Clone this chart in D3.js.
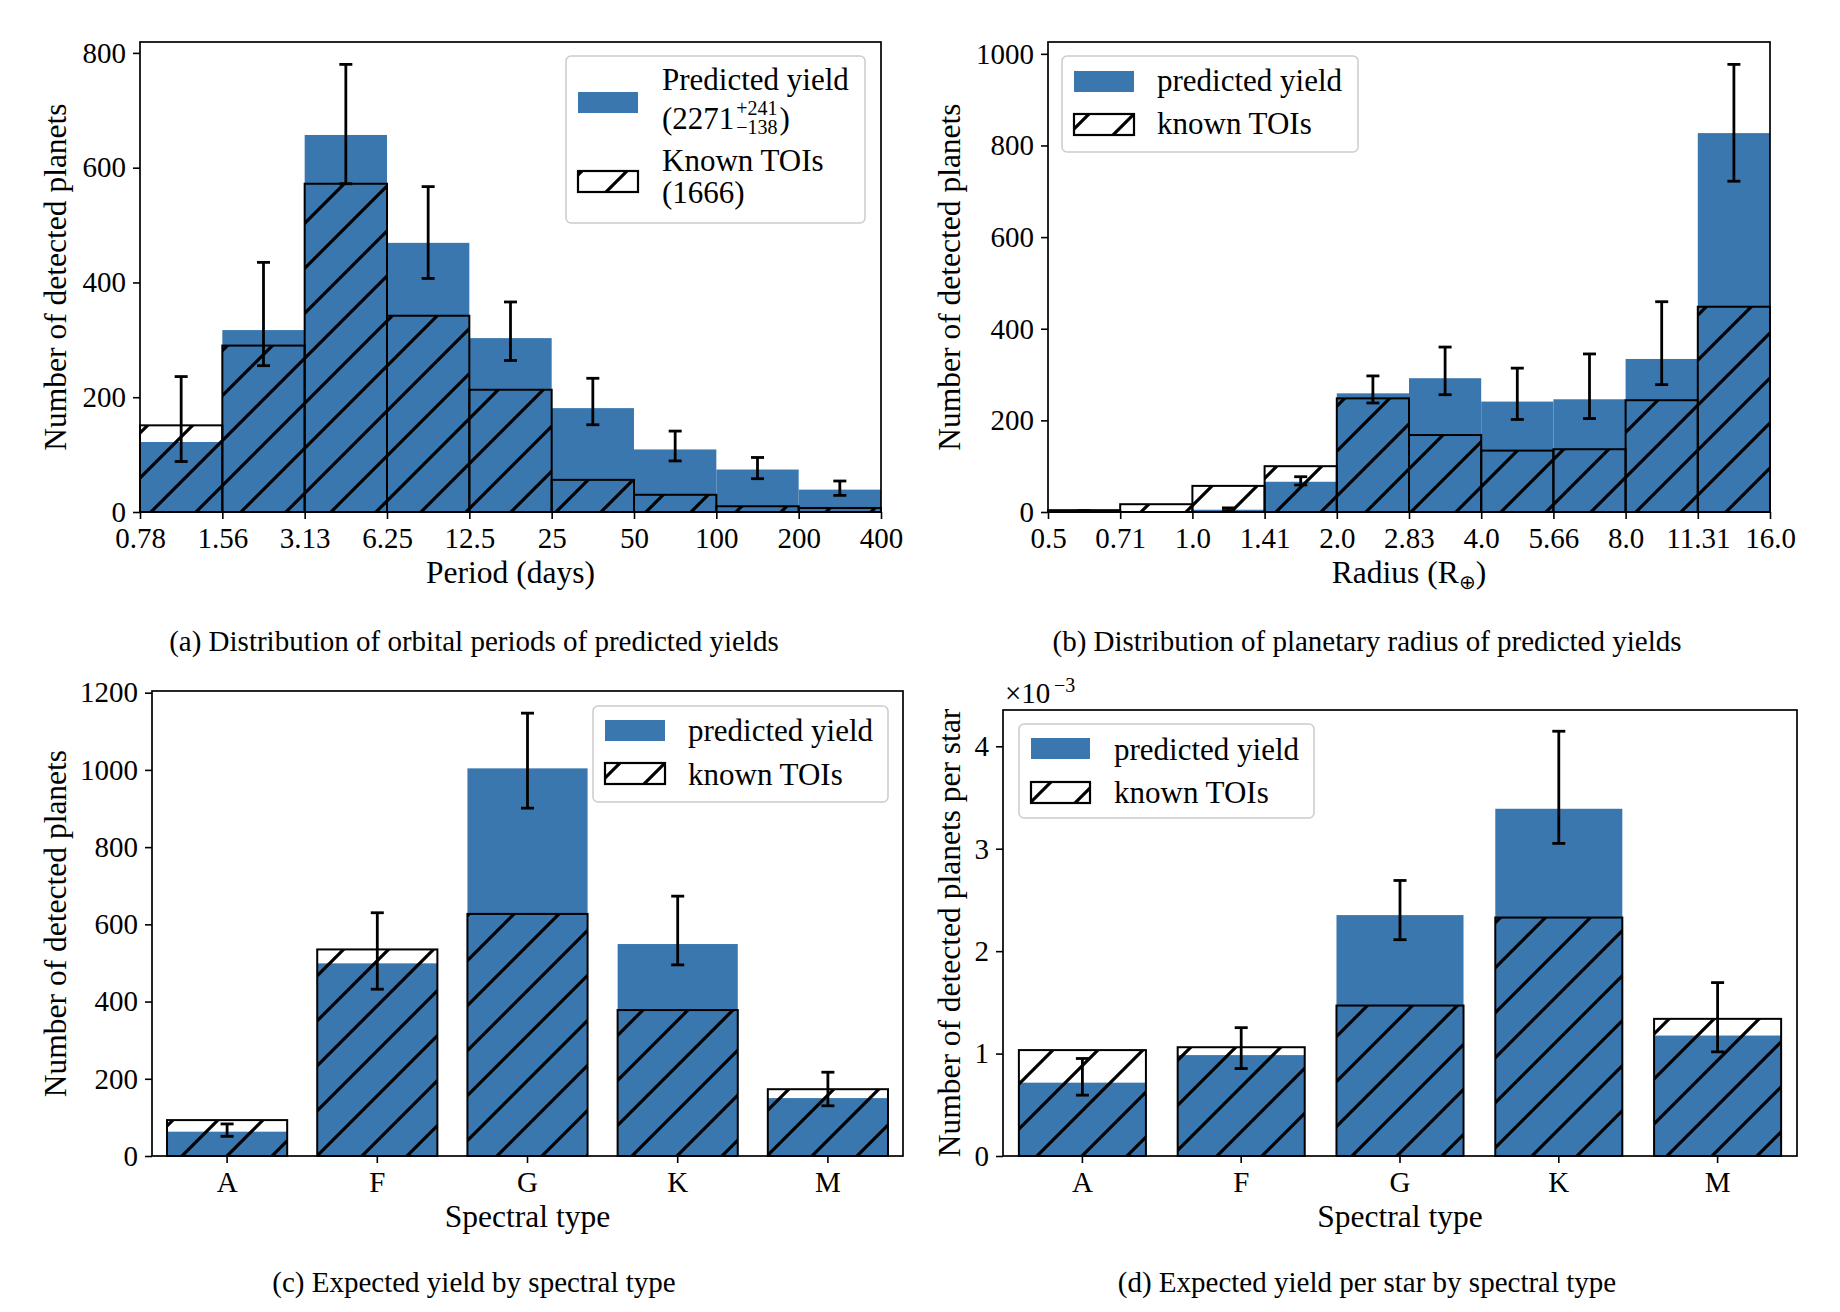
<!DOCTYPE html>
<html><head><meta charset="utf-8">
<script src="https://cdn.jsdelivr.net/npm/d3@7"></script>
<style>
body{margin:0;background:#fff}
svg text{font-family:"Liberation Serif",serif;fill:#000}
</style>
</head><body>
<svg id="fig" width="1840" height="1312"></svg>
<script>
// ---------- DATA ----------
// (a) orbital period histogram (log2 bins, days)
const periodEdges = [0.78125, 1.5625, 3.125, 6.25, 12.5, 25, 50, 100, 200, 400];
const periodTickLabels = ["0.78","1.56","3.13","6.25","12.5","25","50","100","200","400"];
const periodPredicted = [122, 317, 657, 469, 303, 181, 109, 74, 39];
const periodKnown     = [151, 290, 572, 342, 213, 56, 30, 10, 7];
const periodErrLow    = [88, 255, 572, 407, 264, 152, 89, 58, 29];
const periodErrHigh   = [236, 435, 780, 567, 366, 233, 141, 95, 54];

// (b) planetary radius histogram (sqrt2 bins, Earth radii)
const radiusEdges = [0.5, 0.7071, 1.0, 1.4142, 2.0, 2.8284, 4.0, 5.6569, 8.0, 11.3137, 16.0];
const radiusTickLabels = ["0.5","0.71","1.0","1.41","2.0","2.83","4.0","5.66","8.0","11.31","16.0"];
const radiusPredicted = [2, 0, 5, 66, 259, 292, 241, 246, 334, 827];
const radiusKnown     = [4, 17, 57, 100, 248, 168, 134, 137, 244, 448];
const radiusErrLow    = [1, null, 3, 59, 238, 256, 202, 204, 278, 722];
const radiusErrHigh   = [3, null, 9, 77, 297, 360, 314, 345, 459, 977];

// (c) yield by spectral type
const spectralTypes = ["A","F","G","K","M"];
const typePredicted = [63, 499, 1004, 549, 150];
const typeKnown     = [93, 535, 627, 378, 173];
const typeErrLow    = [51, 432, 901, 495, 130];
const typeErrHigh   = [83, 630, 1147, 673, 217];

// (d) yield per star by spectral type (units of 1e-3)
const perStarPredicted = [0.716, 0.985, 2.352, 3.390, 1.176];
const perStarKnown     = [1.034, 1.062, 1.469, 2.328, 1.339];
const perStarErrLow    = [0.594, 0.854, 2.112, 3.052, 1.017];
const perStarErrHigh   = [0.952, 1.253, 2.690, 4.147, 1.693];

const countTicks = {a:[0,200,400,600,800], b:[0,200,400,600,800,1000], c:[0,200,400,600,800,1000,1200], d:[0,1,2,3,4]};

// ---------- STYLE ----------
const BLUE = "#3a77af";
const TICK_FS = 29, LABEL_FS = 31.5, LEG_FS = 31, CAP_FS = 29;

const svg = d3.select("#fig");
const defs = svg.append("defs");
const pat = defs.append("pattern").attr("id","hatch")
  .attr("patternUnits","userSpaceOnUse").attr("width",45).attr("height",45).attr("x",33).attr("y",0);
pat.append("path").attr("d","M0,45 L45,0 M-11,11 L11,-11 M34,56 L56,34")
  .attr("stroke","#000").attr("stroke-width",3.2).attr("fill","none");

function styleAxis(g){
  g.select(".domain").remove();
  g.selectAll(".tick line").attr("stroke","#000").attr("stroke-width",1.6);
  g.selectAll(".tick text").attr("font-size",TICK_FS).attr("font-family","Liberation Serif").attr("fill","#000");
}

function errorBars(g, xs, lo, hi, y){
  xs.forEach((cx,i)=>{
    if(lo[i]==null) return;
    const eg = g.append("g").attr("stroke","#000").attr("stroke-width",2.8);
    eg.append("line").attr("x1",cx).attr("x2",cx).attr("y1",y(lo[i])).attr("y2",y(hi[i]));
    [lo[i],hi[i]].forEach(v=>eg.append("line").attr("x1",cx-6.5).attr("x2",cx+6.5).attr("y1",y(v)).attr("y2",y(v)));
  });
}

function frameAndLabels(g, box, xLabel, yLabel, yLabelX){
  g.append("rect").attr("x",box.left).attr("y",box.top)
    .attr("width",box.right-box.left).attr("height",box.bottom-box.top)
    .attr("fill","none").attr("stroke","#000").attr("stroke-width",1.7);
  const xl = g.append("text").attr("x",(box.left+box.right)/2).attr("y",box.bottom+71)
    .attr("text-anchor","middle").attr("font-size",LABEL_FS);
  if(typeof xLabel === "string") xl.text(xLabel); else xLabel(xl);
  g.append("text").attr("transform",`translate(${yLabelX},${(box.top+box.bottom)/2}) rotate(-90)`)
    .attr("text-anchor","middle").attr("font-size",LABEL_FS).text(yLabel);
}

function yAxis(g, box, y, ticks, fmt){
  const ax = g.append("g").attr("transform",`translate(${box.left},0)`)
    .call(d3.axisLeft(y).tickValues(ticks).tickFormat(fmt||d3.format("d")).tickSize(7).tickPadding(7).tickSizeOuter(0));
  styleAxis(ax);
}

function legend(g, L){
  g.append("rect").attr("x",L.x).attr("y",L.y).attr("width",L.w).attr("height",L.h)
    .attr("rx",5).attr("fill","#fff").attr("fill-opacity",0.8).attr("stroke","#cccccc").attr("stroke-width",1.5);
  g.append("rect").attr("x",L.px).attr("y",L.py1).attr("width",L.pw).attr("height",L.ph).attr("fill",BLUE);
  g.append("rect").attr("x",L.px).attr("y",L.py2).attr("width",L.pw).attr("height",L.ph)
    .attr("fill","url(#hatch)").attr("stroke","#000").attr("stroke-width",2.2);
  L.texts.forEach(t=>{
    const te = g.append("text").attr("x",L.tx).attr("y",t.y).attr("font-size",LEG_FS);
    if(t.s) te.text(t.s);
    if(t.math) t.math(te, g);
  });
}

function histPanel(box, edges, tickLabels, pred, known, lo, hi, ticks){
  const g = svg.append("g");
  const x = d3.scaleLog().base(2).domain([edges[0], edges[edges.length-1]]).range([box.left, box.right]);
  const y = d3.scaleLinear().domain([0, d3.max(hi)*1.05]).range([box.bottom, box.top]);
  const bins = pred.map((v,i)=>({x0:edges[i], x1:edges[i+1], p:v, k:known[i]}));
  g.selectAll(".pb").data(bins).join("rect")
    .attr("x",d=>x(d.x0)).attr("width",d=>x(d.x1)-x(d.x0))
    .attr("y",d=>y(d.p)).attr("height",d=>y(0)-y(d.p)).attr("fill",BLUE);
  g.selectAll(".kb").data(bins).join("rect")
    .attr("x",d=>x(d.x0)).attr("width",d=>x(d.x1)-x(d.x0))
    .attr("y",d=>y(d.k)).attr("height",d=>y(0)-y(d.k))
    .attr("fill","url(#hatch)").attr("stroke","#000").attr("stroke-width",2);
  errorBars(g, bins.map(d=>(x(d.x0)+x(d.x1))/2), lo, hi, y);
  const ax = g.append("g").attr("transform",`translate(0,${box.bottom})`)
    .call(d3.axisBottom(x).tickValues(edges).tickFormat((d,i)=>tickLabels[i]).tickSize(7).tickPadding(8).tickSizeOuter(0));
  styleAxis(ax);
  yAxis(g, box, y, ticks);
  return g;
}

function barPanel(box, cats, pred, known, lo, hi, ticks, fmt){
  const g = svg.append("g");
  const x = d3.scaleBand().domain(cats).range([box.left, box.right]).paddingInner(0.2).paddingOuter(0.1);
  const y = d3.scaleLinear().domain([0, d3.max(hi)*1.05]).range([box.bottom, box.top]);
  g.selectAll(".pb").data(cats).join("rect")
    .attr("x",c=>x(c)).attr("width",x.bandwidth())
    .attr("y",(c,i)=>y(pred[i])).attr("height",(c,i)=>y(0)-y(pred[i])).attr("fill",BLUE);
  g.selectAll(".kb").data(cats).join("rect")
    .attr("x",c=>x(c)).attr("width",x.bandwidth())
    .attr("y",(c,i)=>y(known[i])).attr("height",(c,i)=>y(0)-y(known[i]))
    .attr("fill","url(#hatch)").attr("stroke","#000").attr("stroke-width",2);
  errorBars(g, cats.map(c=>x(c)+x.bandwidth()/2), lo, hi, y);
  const ax = g.append("g").attr("transform",`translate(0,${box.bottom})`)
    .call(d3.axisBottom(x).tickSize(7).tickPadding(8).tickSizeOuter(0));
  styleAxis(ax);
  yAxis(g, box, y, ticks, fmt);
  return g;
}

// ---------- PANEL (a) ----------
const boxA = {left:140, right:881, top:42, bottom:512};
const gA = histPanel(boxA, periodEdges, periodTickLabels, periodPredicted, periodKnown, periodErrLow, periodErrHigh, countTicks.a);
legend(gA, {x:566, y:56, w:299, h:167, px:578, pw:60, ph:21, py1:92, py2:171, tx:662,
  texts:[
    {s:"Predicted yield", y:90},
    {s:"(2271", y:129, math:(te,g)=>{
      const w = te.node().getComputedTextLength();
      const x0 = 662 + w + 2;
      g.append("text").attr("x",x0).attr("y",115).attr("font-size",20).text("+241");
      const sub = g.append("text").attr("x",x0).attr("y",134).attr("font-size",20).text("\u2212138");
      const ws = sub.node().getComputedTextLength();
      g.append("text").attr("x",x0+ws+2).attr("y",129).attr("font-size",LEG_FS).text(")");
    }},
    {s:"Known TOIs", y:171},
    {s:"(1666)", y:203}
  ]});
frameAndLabels(gA, boxA, "Period (days)", "Number of detected planets", 66);

// ---------- PANEL (b) ----------
const boxB = {left:1048, right:1770, top:42, bottom:512};
const gB = histPanel(boxB, radiusEdges, radiusTickLabels, radiusPredicted, radiusKnown, radiusErrLow, radiusErrHigh, countTicks.b);
legend(gB, {x:1062, y:56, w:296, h:96, px:1074, pw:60, ph:21, py1:71, py2:114, tx:1157,
  texts:[{s:"predicted yield", y:91},{s:"known TOIs", y:134}]});
frameAndLabels(gB, boxB, t=>{
  t.append("tspan").text("Radius (R");
  t.append("tspan").attr("font-size",20).attr("dy",6).text("\u2295");
  t.append("tspan").attr("dy",-6).text(")");
}, "Number of detected planets", 960);

// ---------- PANEL (c) ----------
const boxC = {left:152, right:903, top:691, bottom:1156};
const gC = barPanel(boxC, spectralTypes, typePredicted, typeKnown, typeErrLow, typeErrHigh, countTicks.c);
legend(gC, {x:593, y:706, w:295, h:96, px:605, pw:60, ph:21, py1:720, py2:763, tx:688,
  texts:[{s:"predicted yield", y:741},{s:"known TOIs", y:785}]});
frameAndLabels(gC, boxC, "Spectral type", "Number of detected planets", 66);

// ---------- PANEL (d) ----------
const boxD = {left:1003, right:1797, top:710, bottom:1156};
const gD = barPanel(boxD, spectralTypes, perStarPredicted, perStarKnown, perStarErrLow, perStarErrHigh, countTicks.d, d3.format("d"));
legend(gD, {x:1019, y:724, w:295, h:94, px:1031, pw:59, ph:21, py1:738, py2:782, tx:1114,
  texts:[{s:"predicted yield", y:760},{s:"known TOIs", y:803}]});
frameAndLabels(gD, boxD, "Spectral type", "Number of detected planets per star", 960);
gD.append("text").attr("x",1005).attr("y",703).attr("font-size",TICK_FS).text("\u00d710");
gD.append("text").attr("x",1054).attr("y",692).attr("font-size",20).text("\u22123");

// ---------- CAPTIONS ----------
const captions = [
  {t:"(a) Distribution of orbital periods of predicted yields", x:474, y:651},
  {t:"(b) Distribution of planetary radius of predicted yields", x:1367, y:651},
  {t:"(c) Expected yield by spectral type", x:474, y:1292},
  {t:"(d) Expected yield per star by spectral type", x:1367, y:1292}
];
svg.selectAll(".cap").data(captions).join("text")
  .attr("x",d=>d.x).attr("y",d=>d.y).attr("text-anchor","middle").attr("font-size",CAP_FS).text(d=>d.t);
</script>
</body></html>
